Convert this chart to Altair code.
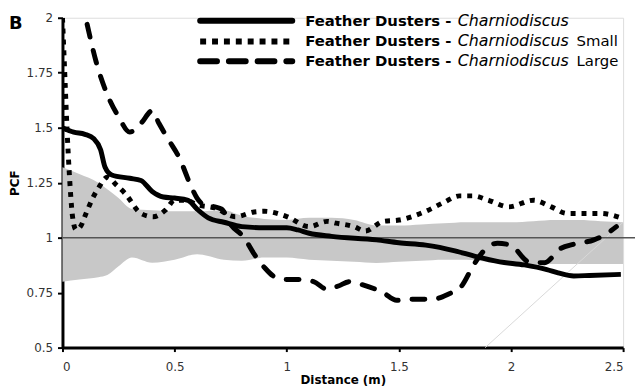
import altair as alt
import pandas as pd

# ---- data ----
solid_x = [0, 0.05, 0.1, 0.14, 0.17, 0.19, 0.22, 0.3, 0.35, 0.4, 0.45, 0.5, 0.56, 0.6, 0.65, 0.72, 0.8,
           0.9, 1.0, 1.05, 1.1, 1.2, 1.4, 1.5, 1.62, 1.75, 1.84, 1.95, 2.06, 2.16, 2.21, 2.28, 2.35, 2.49]
solid_y = [1.50, 1.48, 1.47, 1.45, 1.40, 1.32, 1.285, 1.27, 1.26, 1.21, 1.185, 1.18, 1.17, 1.13, 1.09, 1.07, 1.05,
           1.045, 1.045, 1.035, 1.02, 1.006, 0.99, 0.977, 0.966, 0.94, 0.915, 0.89, 0.876, 0.855, 0.84, 0.826, 0.828, 0.833]

small_x = [0, 0.01, 0.02, 0.03, 0.045, 0.06, 0.08, 0.105, 0.135, 0.163, 0.2, 0.24, 0.28, 0.35, 0.405, 0.46, 0.5,
           0.55, 0.6, 0.68, 0.77, 0.855, 0.9, 1.0, 1.1, 1.18, 1.22, 1.3, 1.35, 1.43, 1.5, 1.62, 1.7, 1.77, 1.83,
           1.9, 1.99, 2.1, 2.18, 2.25, 2.4, 2.49]
small_y = [2.0, 1.75, 1.5, 1.3, 1.095, 1.036, 1.05, 1.11, 1.18, 1.23, 1.275, 1.24, 1.2, 1.11, 1.095, 1.126, 1.17,
           1.17, 1.15, 1.135, 1.095, 1.117, 1.12, 1.096, 1.05, 1.074, 1.066, 1.05, 1.03, 1.074, 1.08, 1.12, 1.16, 1.19, 1.19,
           1.17, 1.14, 1.17, 1.14, 1.11, 1.11, 1.09]

large_x = [0.11, 0.15, 0.2, 0.25, 0.3, 0.35, 0.4, 0.43, 0.47, 0.52, 0.575, 0.6, 0.63, 0.68, 0.71, 0.75, 0.81,
           0.855, 0.9, 0.95, 1.0, 1.05, 1.12, 1.18, 1.23, 1.28, 1.34, 1.43, 1.49, 1.55, 1.65, 1.72, 1.78, 1.83,
           1.87, 1.94, 2.0, 2.08, 2.15, 2.22, 2.28, 2.37, 2.43, 2.47]
large_y = [1.97, 1.80, 1.65, 1.55, 1.48, 1.52, 1.577, 1.52, 1.45, 1.365, 1.23, 1.18, 1.15, 1.14, 1.13, 1.06, 1.0,
           0.925, 0.865, 0.82, 0.81, 0.81, 0.80, 0.765, 0.78, 0.80, 0.785, 0.75, 0.715, 0.72, 0.72, 0.743, 0.78, 0.87,
           0.93, 0.975, 0.965, 0.89, 0.886, 0.95, 0.97, 0.99, 1.02, 1.05]

env_x = [0, 0.075, 0.16, 0.2, 0.25, 0.31, 0.4, 0.5, 0.6, 0.72, 0.8, 0.9, 1.0, 1.1, 1.2, 1.3, 1.4, 1.5, 1.6,
         1.7, 1.8, 1.9, 2.0, 2.1, 2.2, 2.3, 2.4, 2.5]
env_hi = [1.32, 1.29, 1.25, 1.22, 1.18, 1.13, 1.125, 1.12, 1.12, 1.125, 1.10, 1.085, 1.08, 1.09, 1.09, 1.08, 1.055,
          1.055, 1.06, 1.065, 1.07, 1.07, 1.07, 1.075, 1.08, 1.08, 1.075, 1.07]
env_lo = [0.80, 0.81, 0.82, 0.83, 0.87, 0.91, 0.886, 0.90, 0.925, 0.90, 0.895, 0.91, 0.91, 0.90, 0.895, 0.89, 0.885,
          0.89, 0.895, 0.90, 0.90, 0.89, 0.88, 0.88, 0.88, 0.88, 0.88, 0.88]

diag_x = [1.885, 2.5]
diag_y = [0.5, 1.07]

x_ticks = [0, 0.5, 1, 1.5, 2, 2.5]
y_ticks = [0.5, 0.75, 1, 1.25, 1.5, 1.75, 2]

series_names = ["Feather Dusters -", "Charniodiscus", "Small", "Large"]

FONT = "DejaVu Sans"
W, H = 566, 333

xs = alt.Scale(domain=[0, 2.5], nice=False)
ys = alt.Scale(domain=[0.5, 2], nice=False)

xax = alt.Axis(values=x_ticks, labelExpr="'' + datum.value", title="Distance (m)", grid=False,
               domainWidth=3, domainColor="black", tickColor="black", tickWidth=2, tickSize=4,
               labelFont=FONT, labelFontSize=12, labelColor="#333", labelPadding=10,
               titleFont=FONT, titleFontSize=12, titleFontWeight="bold", titleColor="black", titlePadding=2)
yax = alt.Axis(values=y_ticks, labelExpr="'' + datum.value", title="PCF", grid=False,
               domainWidth=3, domainColor="black", tickColor="black", tickWidth=2, tickSize=5,
               labelFont=FONT, labelFontSize=12, labelColor="#333", labelPadding=5,
               titleFont=FONT, titleFontSize=12, titleFontWeight="bold", titleColor="black", titlePadding=5)

env = pd.DataFrame({"x": env_x, "lo": env_lo, "hi": env_hi})
band = alt.Chart(env).mark_area(color="#c8c8c8", interpolate="monotone").encode(
    x=alt.X("x:Q", scale=xs, axis=xax),
    y=alt.Y("lo:Q", scale=ys, axis=yax),
    y2="hi:Q",
)

diag = alt.Chart(pd.DataFrame({"x": diag_x, "y": diag_y})).mark_line(color="#d9d9d9", strokeWidth=1).encode(
    x=alt.X("x:Q", scale=xs), y=alt.Y("y:Q", scale=ys))

hline = alt.Chart(pd.DataFrame({"y": [1]})).mark_rule(color="#555555", strokeWidth=1.5).encode(
    y=alt.Y("y:Q", scale=ys), x=alt.value(0), x2=alt.value(W + 12))

def line(xv, yv, **kw):
    return alt.Chart(pd.DataFrame({"x": xv, "y": yv})).mark_line(
        color="black", interpolate="monotone", clip=True, **kw).encode(
        x=alt.X("x:Q", scale=xs), y=alt.Y("y:Q", scale=ys))

l_solid = line(solid_x, solid_y, strokeWidth=5)
l_small = line(small_x, small_y, strokeWidth=5, strokeDash=[5, 6])
l_large = line(large_x, large_y, strokeWidth=5, strokeDash=[13, 14], strokeCap="round")

# ---- custom legend (top right) ----
rows = [3, 24, 44]
dashes = [None, [6, 6], [17, 12]]
caps = ["round", "butt", "round"]
LFS = 15
legend_layers = []
for r, d, c in zip(rows, dashes, caps):
    kw = dict(color="black", strokeWidth=6, strokeCap=c)
    if d:
        kw["strokeDash"] = d
    legend_layers.append(
        alt.Chart(pd.DataFrame({"k": [0]})).mark_rule(**kw).encode(
            x=alt.value(139), x2=alt.value(232), y=alt.value(r)))
    legend_layers.append(
        alt.Chart(pd.DataFrame({"t": [series_names[0]]})).mark_text(
            font=FONT, fontSize=LFS, fontWeight="bold", align="left", baseline="middle", color="black").encode(
            x=alt.value(245), y=alt.value(r), text="t:N"))
    legend_layers.append(
        alt.Chart(pd.DataFrame({"t": [series_names[1]]})).mark_text(
            font=FONT, fontSize=16, fontStyle="italic", align="left", baseline="middle",
            color="black").encode(x=alt.value(399), y=alt.value(r), text="t:N"))
for name, r in zip(series_names[2:4], rows[1:3]):
    legend_layers.append(
        alt.Chart(pd.DataFrame({"t": [name]})).mark_text(
            font=FONT, fontSize=LFS, align="left", baseline="middle", color="black").encode(
            x=alt.value(519), y=alt.value(r), text="t:N"))

blabel = alt.Chart(pd.DataFrame({"t": ["B"]})).mark_text(
    font=FONT, fontSize=18, fontWeight="bold", align="left", baseline="middle", color="black").encode(
    x=alt.value(-54), y=alt.value(6), text="t:N")

chart = alt.layer(band, diag, hline, l_solid, l_small, l_large, *legend_layers, blabel).properties(
    width=W, height=H,
    autosize=alt.AutoSizeParams(type="none"),
    padding={"left": 55, "top": 8, "right": 12, "bottom": 46},
).configure_view(stroke=None).configure(background="white")

chart.save("out.html", embed_options={"renderer": "svg", "actions": False})
